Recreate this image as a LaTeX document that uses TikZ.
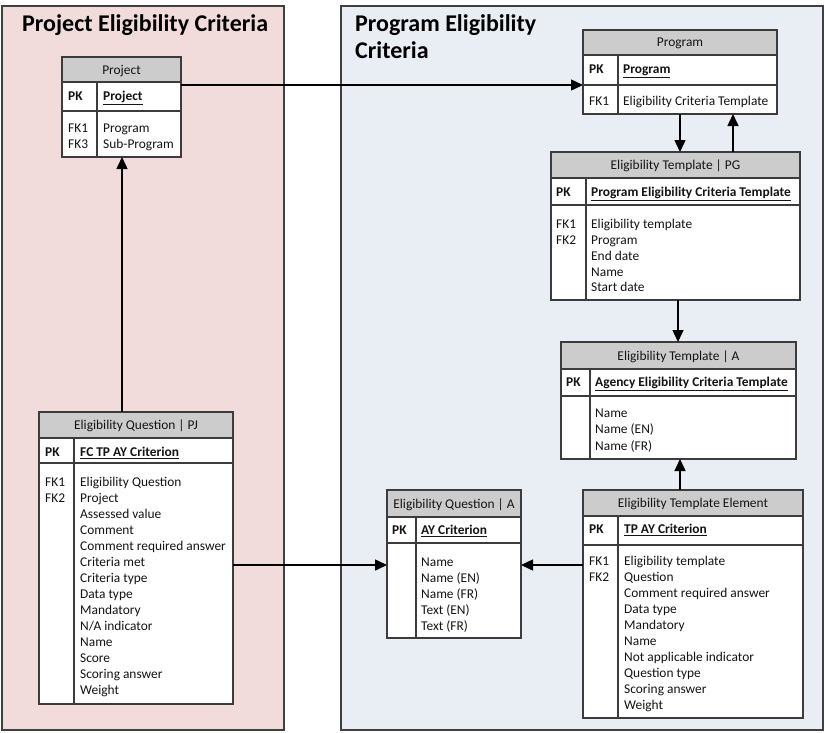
\documentclass[tikz,border=0pt]{standalone}
\usepackage{fontspec}
\setmainfont{Carlito}
\usetikzlibrary{arrows.meta}
\definecolor{pinkbg}{HTML}{F2DCDB}
\definecolor{bluebg}{HTML}{E9EDF4}
\definecolor{hdrgray}{HTML}{CCCCCC}
\definecolor{tbcol}{HTML}{3C3C3C}
\definecolor{txtcol}{HTML}{141414}
\tikzset{
  panel/.style={draw=black!75, line width=1.3pt, inner sep=0pt, outer sep=0pt},
  tb/.style={draw=tbcol, line width=1.3pt, inner sep=0pt, outer sep=0pt, fill=white, font=\fontsize{13.4}{16}\selectfont, text=txtcol},
  hdr/.style={tb, fill=hdrgray, text depth=0pt},
  txt/.style={inner sep=0pt, anchor=mid west, yshift=-2pt, font=\fontsize{13.4}{16}\selectfont, text=txtcol},
  pktxt/.style={txt, font=\fontsize{13.4}{16}\selectfont\bfseries},
  divl/.style={draw=tbcol, line width=1.3pt},
  arr/.style={line width=1.5pt, -{Triangle[length=12pt,width=11pt]}},
  ttl/.style={inner sep=0pt, font=\fontsize{24}{27}\selectfont\bfseries, align=left, text=black}
}
\begin{document}
\begin{tikzpicture}[x=1pt,y=-1pt]
\useasboundingbox (0,0) rectangle (825,732);
% panels
\node[panel, fill=pinkbg, minimum width=282pt, minimum height=724pt, anchor=north west] (lpanel) at (2,6) {};
\node[panel, fill=bluebg, minimum width=482pt, minimum height=724pt, anchor=north west] (rpanel) at (341,6) {};
\node[ttl, anchor=west] (ltitle) at (22,25) {Project Eligibility Criteria};
\node[ttl, anchor=north west] (rtitle) at (355,14) {Program Eligibility\\Criteria};

% ---------- Project ----------
\node[hdr, minimum width=119pt, minimum height=25pt, anchor=north west] (prj-h) at (62,57) {Project};
\node[tb, minimum width=119pt, minimum height=29pt, anchor=north west] (prj-pk) at (62,82) {};
\node[tb, minimum width=119pt, minimum height=46pt, anchor=north west] (prj-b) at (62,111) {};
\draw[divl] (97,82) -- (97,157);
\node[pktxt] (prj-pkl) at (68,96) {PK};
\node[pktxt] (prj-pkf) at (103,96) {\underline{Project}};
\node[txt] (prj-f1) at (68,128) {FK1};
\node[txt] (prj-f2) at (68,144) {FK3};
\node[txt] (prj-a1) at (103,128) {Program};
\node[txt] (prj-a2) at (103,144) {Sub-Program};

% ---------- Program ----------
\node[hdr, minimum width=194pt, minimum height=25pt, anchor=north west] (prog-h) at (583,30) {Program};
\node[tb, minimum width=194pt, minimum height=30pt, anchor=north west] (prog-pk) at (583,55) {};
\node[tb, minimum width=194pt, minimum height=29pt, anchor=north west] (prog-fk) at (583,85) {};
\draw[divl] (618,55) -- (618,114);
\node[pktxt] (prog-pkl) at (589,69) {PK};
\node[pktxt] (prog-pkf) at (623,69) {\underline{Program}};
\node[txt] (prog-f1) at (589,101) {FK1};
\node[txt] (prog-a1) at (623,101) {Eligibility Criteria Template};

% ---------- Eligibility Template | PG ----------
\node[hdr, minimum width=249pt, minimum height=26pt, anchor=north west] (etpg-h) at (551,152) {Eligibility Template | PG};
\node[tb, minimum width=249pt, minimum height=27pt, anchor=north west] (etpg-pk) at (551,178) {};
\node[tb, minimum width=249pt, minimum height=95pt, anchor=north west] (etpg-b) at (551,205) {};
\draw[divl] (586,178) -- (586,300);
\node[pktxt] (etpg-pkl) at (556,192) {PK};
\node[pktxt] (etpg-pkf) at (591,192) {\underline{Program Eligibility Criteria Template}};
\node[txt] (etpg-f1) at (556,224) {FK1};
\node[txt] (etpg-f2) at (556,240) {FK2};
\node[txt] (etpg-a1) at (591,224) {Eligibility template};
\node[txt] (etpg-a2) at (591,240) {Program};
\node[txt] (etpg-a3) at (591,256) {End date};
\node[txt] (etpg-a4) at (591,272) {Name};
\node[txt] (etpg-a5) at (591,287) {Start date};

% ---------- Eligibility Template | A ----------
\node[hdr, minimum width=235pt, minimum height=27pt, anchor=north west] (eta-h) at (561,342) {Eligibility Template | A};
\node[tb, minimum width=235pt, minimum height=27pt, anchor=north west] (eta-pk) at (561,369) {};
\node[tb, minimum width=235pt, minimum height=63pt, anchor=north west] (eta-b) at (561,396) {};
\draw[divl] (590,369) -- (590,459);
\node[pktxt] (eta-pkl) at (566,382) {PK};
\node[pktxt] (eta-pkf) at (595,382) {\underline{Agency Eligibility Criteria Template}};
\node[txt] (eta-a1) at (595,413) {Name};
\node[txt] (eta-a2) at (595,429) {Name (EN)};
\node[txt] (eta-a3) at (595,446) {Name (FR)};

% ---------- Eligibility Template Element ----------
\node[hdr, minimum width=220pt, minimum height=26pt, anchor=north west] (ete-h) at (583,490) {Eligibility Template Element};
\node[tb, minimum width=220pt, minimum height=29pt, anchor=north west] (ete-pk) at (583,516) {};
\node[tb, minimum width=220pt, minimum height=173pt, anchor=north west] (ete-b) at (583,545) {};
\draw[divl] (618,516) -- (618,718);
\node[pktxt] (ete-pkl) at (589,529) {PK};
\node[pktxt] (ete-pkf) at (624,529) {\underline{TP AY Criterion}};
\node[txt] (ete-f1) at (589,561) {FK1};
\node[txt] (ete-f2) at (589,577) {FK2};
\node[txt] (ete-a1) at (624,561) {Eligibility template};
\node[txt] (ete-a2) at (624,577) {Question};
\node[txt] (ete-a3) at (624,593) {Comment required answer};
\node[txt] (ete-a4) at (624,609) {Data type};
\node[txt] (ete-a5) at (624,625) {Mandatory};
\node[txt] (ete-a6) at (624,641) {Name};
\node[txt] (ete-a7) at (624,657) {Not applicable indicator};
\node[txt] (ete-a8) at (624,673) {Question type};
\node[txt] (ete-a9) at (624,689) {Scoring answer};
\node[txt] (ete-a10) at (624,705) {Weight};

% ---------- Eligibility Question | A ----------
\node[hdr, minimum width=134pt, minimum height=27pt, anchor=north west] (eqa-h) at (387,490) {Eligibility Question | A};
\node[tb, minimum width=134pt, minimum height=26pt, anchor=north west] (eqa-pk) at (387,517) {};
\node[tb, minimum width=134pt, minimum height=95pt, anchor=north west] (eqa-b) at (387,543) {};
\draw[divl] (416,517) -- (416,638);
\node[pktxt] (eqa-pkl) at (392,530) {PK};
\node[pktxt] (eqa-pkf) at (421,530) {\underline{AY Criterion}};
\node[txt] (eqa-a1) at (421,562) {Name};
\node[txt] (eqa-a2) at (421,578) {Name (EN)};
\node[txt] (eqa-a3) at (421,594) {Name (FR)};
\node[txt] (eqa-a4) at (421,610) {Text (EN)};
\node[txt] (eqa-a5) at (421,626) {Text (FR)};

% ---------- Eligibility Question | PJ ----------
\node[hdr, minimum width=194pt, minimum height=26pt, anchor=north west] (eqpj-h) at (39,412) {Eligibility Question | PJ};
\node[tb, minimum width=194pt, minimum height=25pt, anchor=north west] (eqpj-pk) at (39,438) {};
\node[tb, minimum width=194pt, minimum height=241pt, anchor=north west] (eqpj-b) at (39,463) {};
\draw[divl] (74,438) -- (74,704);
\node[pktxt] (eqpj-pkl) at (45,452) {PK};
\node[pktxt] (eqpj-pkf) at (80,452) {\underline{FC TP AY Criterion}};
\node[txt] (eqpj-f1) at (45,482) {FK1};
\node[txt] (eqpj-f2) at (45,498) {FK2};
\node[txt] (eqpj-a1) at (80,482) {Eligibility Question};
\node[txt] (eqpj-a2) at (80,498) {Project};
\node[txt] (eqpj-a3) at (80,514) {Assessed value};
\node[txt] (eqpj-a4) at (80,530) {Comment};
\node[txt] (eqpj-a5) at (80,546) {Comment required answer};
\node[txt] (eqpj-a6) at (80,562) {Criteria met};
\node[txt] (eqpj-a7) at (80,578) {Criteria type};
\node[txt] (eqpj-a8) at (80,594) {Data type};
\node[txt] (eqpj-a9) at (80,610) {Mandatory};
\node[txt] (eqpj-a10) at (80,626) {N/A indicator};
\node[txt] (eqpj-a11) at (80,642) {Name};
\node[txt] (eqpj-a12) at (80,658) {Score};
\node[txt] (eqpj-a13) at (80,674) {Scoring answer};
\node[txt] (eqpj-a14) at (80,690) {Weight};

% ---------- connectors ----------
\draw[arr] (prj-pk.east |- prog-fk.north west) -- (prog-fk.north west);
\draw[arr] (prog-fk.south -| 680,0) -- (etpg-h.north -| 680,0);
\draw[arr] (etpg-h.north -| 733,0) -- (prog-fk.south -| 733,0);
\draw[arr] (etpg-b.south -| 678,0) -- (eta-h.north -| 678,0);
\draw[arr] (ete-h.north -| 680,0) -- (eta-b.south -| 680,0);
\draw[arr] (ete-b.west |- 0,565) -- (eqa-b.east |- 0,565);
\draw[arr] (eqpj-b.east |- 0,565) -- (eqa-b.west |- 0,565);
\draw[arr] (eqpj-h.north -| 122,0) -- (prj-b.south -| 122,0);
\end{tikzpicture}
\end{document}
